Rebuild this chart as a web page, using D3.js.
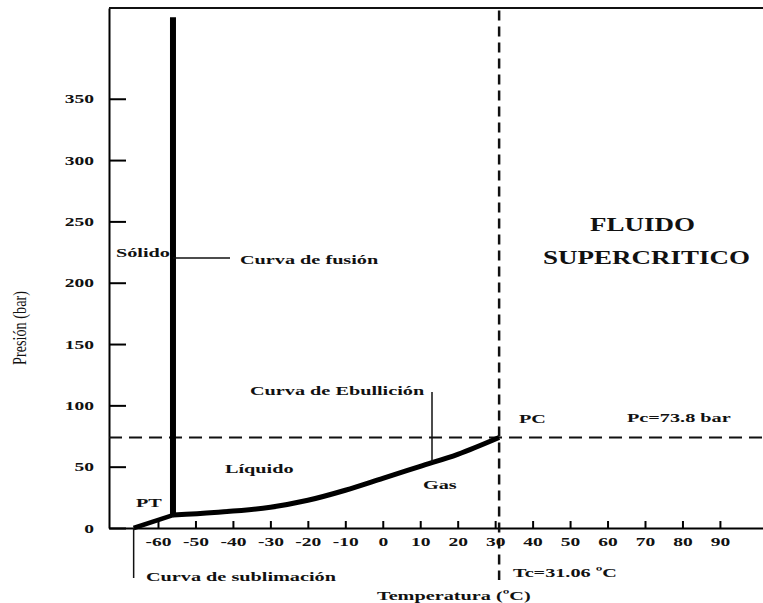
<!DOCTYPE html>
<meta charset="utf-8">
<script src="https://d3js.org/d3.v7.min.js"></script>
<style>
  body { margin: 0; background: #fff; }
  text { font-family: "Liberation Serif", "Times New Roman", serif; font-weight: bold; fill: #111; }
</style>
<div id="chart"></div>
<script>
  // tick values
  const xTicks = [-60, -50, -40, -30, -20, -10, 0, 10, 20, 30, 40, 50, 60, 70, 80, 90];
  const yTicks = [0, 50, 100, 150, 200, 250, 300, 350];

  // phase boundaries (T in ºC, P in bar)
  const sublimT = [-66.5, -56];
  const sublimP = [0, 10.5];
  const fusionT = [-56, -56];
  const fusionP = [10.5, 416.5];
  const boilT = [-56, -45, -30, -20, -10, 0, 10, 20, 31.06];
  const boilP = [10.5, 12.6, 16.9, 22.6, 30.8, 40.5, 50.3, 60.1, 73.8];

  // critical point
  const tc = 31.06, pc = 73.8;

  const W = 763, H = 603;
  const margin = {top: 8, right: 0, bottom: 75, left: 109};

  const svg = d3.select("#chart").append("svg")
      .attr("width", W)
      .attr("height", H);

  const x = d3.scaleLinear()
    .domain([-73.08, 101.5])
    .range([margin.left, W - margin.right]);
  const y = d3.scaleLinear()
    .domain([0, 424])
    .range([H - margin.bottom, margin.top]);

  // stretched serif text like the scanned original
  function label(px, py, txt, size, anchor) {
    return svg.append("text")
      .attr("transform", `translate(${px},${py}) scale(1.5,1)`)
      .attr("dy", "0.35em")
      .attr("text-anchor", anchor || "start")
      .style("font-size", size + "px")
      .text(txt);
  }

  // X axis (ticks point up, into the plot)
  const xAxis = svg.append("g")
    .attr("transform", `translate(0,${y(0)})`)
    .call(d3.axisBottom(x).tickValues(xTicks).tickFormat(d => String(d))
      .tickSizeInner(-7).tickSizeOuter(0).tickPadding(9));
  xAxis.select(".domain").attr("stroke-width", 2);
  xAxis.selectAll(".tick line").attr("stroke-width", 2);
  xAxis.selectAll(".tick text")
    .attr("transform", "scale(1.5,1)")
    .style("font-size", "13px")
    .style("font-family", null);

  // Y axis (ticks point right)
  const yAxis = svg.append("g")
    .attr("transform", `translate(${margin.left},0)`)
    .call(d3.axisLeft(y).tickValues(yTicks).tickFormat(d => String(d))
      .tickSizeInner(-17).tickSizeOuter(0));
  yAxis.select(".domain").attr("stroke-width", 2);
  yAxis.selectAll(".tick line").attr("stroke-width", 2);
  yAxis.selectAll(".tick text")
    .attr("x", 0)
    .attr("transform", "translate(-15,0) scale(1.5,1)")
    .style("font-size", "13px")
    .style("font-family", null);

  // top frame line
  svg.append("line")
    .attr("x1", margin.left).attr("x2", W)
    .attr("y1", y(424)).attr("y2", y(424))
    .attr("stroke", "#111").attr("stroke-width", 2);

  // dashed critical lines
  svg.append("line")
    .attr("x1", margin.left).attr("x2", W)
    .attr("y1", y(pc)).attr("y2", y(pc))
    .attr("stroke", "#111").attr("stroke-width", 2)
    .attr("stroke-dasharray", "13,7");
  svg.append("line")
    .attr("x1", x(tc)).attr("x2", x(tc))
    .attr("y1", y(422)).attr("y2", 580)
    .attr("stroke", "#111").attr("stroke-width", 2.5)
    .attr("stroke-dasharray", "10,6");

  const line = d3.line().x(d => x(d[0])).y(d => y(d[1]));

  svg.append("path")
    .datum(d3.zip(sublimT, sublimP))
    .attr("d", line)
    .attr("fill", "none").attr("stroke", "#000").attr("stroke-width", 4.5);

  svg.append("path")
    .datum(d3.zip(boilT, boilP))
    .attr("d", line.curve(d3.curveMonotoneX))
    .attr("fill", "none").attr("stroke", "#000").attr("stroke-width", 5)
    .attr("stroke-linejoin", "round");

  svg.append("path")
    .datum(d3.zip(fusionT, fusionP))
    .attr("d", d3.line().x(d => x(d[0])).y(d => y(d[1])))
    .attr("fill", "none").attr("stroke", "#000").attr("stroke-width", 6);

  // leader lines
  svg.append("line")
    .attr("x1", x(fusionT[0])).attr("x2", 230)
    .attr("y1", 258).attr("y2", 258)
    .attr("stroke", "#111").attr("stroke-width", 1.5);
  svg.append("line")
    .attr("x1", 432).attr("x2", 432)
    .attr("y1", 392).attr("y2", 462)
    .attr("stroke", "#111").attr("stroke-width", 1.5);
  svg.append("line")
    .attr("x1", x(sublimT[0])).attr("x2", x(sublimT[0]))
    .attr("y1", y(0)).attr("y2", 578)
    .attr("stroke", "#111").attr("stroke-width", 1.5);

  // annotations
  label(116, 252, "Sólido", 13.5);
  label(240, 259, "Curva de fusión", 13.5);
  label(250, 390, "Curva de Ebullición", 13.5);
  label(225, 468, "Líquido", 13.5);
  label(423, 484, "Gas", 13.5);
  label(136, 502, "PT", 13.5);
  label(519, 418, "PC", 13.5);
  label(627, 417, "Pc=73.8 bar", 13.5);
  label(590, 225, "FLUIDO", 18);
  label(543, 258, "SUPERCRITICO", 18);
  label(146, 576, "Curva de sublimación", 13.5);
  label(513, 572, "Tc=31.06 ºC", 13.5);
  label(377, 595, "Temperatura (ºC)", 13.5);

  // y axis title, narrow regular face
  svg.append("text")
    .attr("transform", "translate(26,328) rotate(-90) scale(0.75,1)")
    .attr("text-anchor", "middle")
    .style("font-weight", "normal")
    .style("font-size", "19px")
    .text("Presión (bar)");
</script>
